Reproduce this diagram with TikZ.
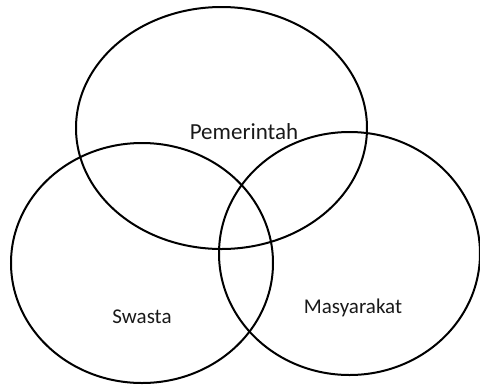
\documentclass[tikz,border=0pt]{standalone}
\usepackage{fontspec}
\setmainfont{Carlito}
\usetikzlibrary{shapes.geometric}
\begin{document}
\begin{tikzpicture}[x=1pt,y=-1pt,
  venn/.style={draw=black,line width=2pt,ellipse,inner sep=0pt,outer sep=0pt},
  lbl/.style={inner sep=0pt,text=black!90}]
\useasboundingbox (0,0) rectangle (480,384);
\node[venn,minimum width=291pt,minimum height=242pt] (pem) at (221.5,128) {};
\node[venn,minimum width=262pt,minimum height=240pt] (swa) at (142,263) {};
\node[venn,minimum width=261pt,minimum height=243pt] (mas) at (349.5,253.5) {};
\node[lbl,font=\fontsize{23}{27}\selectfont] (tpem) at (244,131.5) {Pemerintah};
\node[lbl,font=\fontsize{21}{25}\selectfont] (tswa) at (142,316.5) {Swasta};
\node[lbl,font=\fontsize{21}{25}\selectfont] (tmas) at (353,307.5) {Masyarakat};
\end{tikzpicture}
\end{document}
